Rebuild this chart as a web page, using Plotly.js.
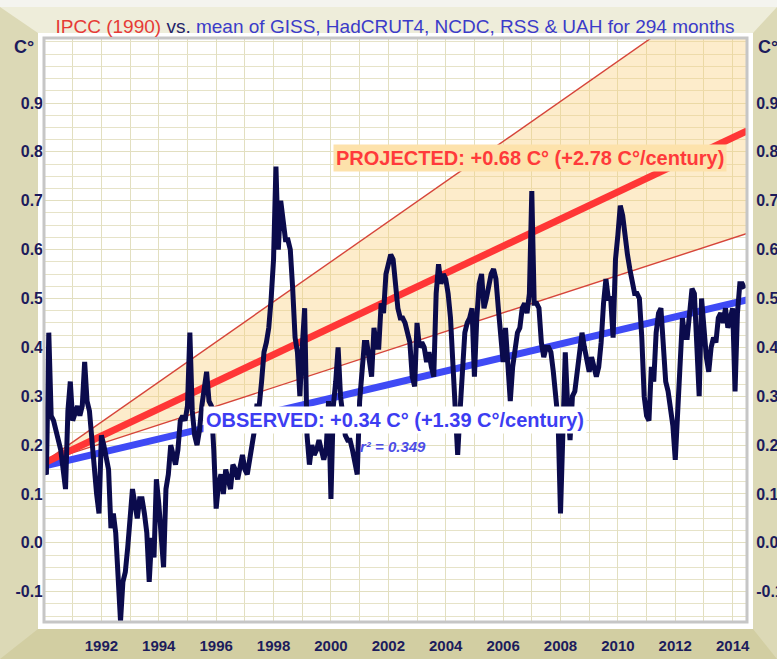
<!DOCTYPE html>
<html>
<head>
<meta charset="utf-8">
<script src="https://cdn.plot.ly/plotly-3.0.1.min.js"></script>
<style>html,body{margin:0;padding:0;background:#dcd9b6;}#chart{width:777px;height:659px;}</style>
</head>
<body>
<div id="chart"></div>
<script>
// ---- data ----
const startYear = 1990;          // first month: January 1990
const monthsCount = 294;
// monthly mean anomaly (C°), Jan 1990 .. Jun 2014
const anom1990 = [0.15,0.14,0.43,0.26,0.25,0.23,0.21,0.19,0.15,0.11,0.27,0.33];
const anom1991 = [0.25,0.27,0.28,0.26,0.28,0.37,0.29,0.27,0.21,0.13,0.10,0.06];
const anom1992 = [0.22,0.20,0.18,0.15,0.03,0.06,0.02,-0.08,-0.16,-0.08,-0.06,-0.01];
const anom1993 = [0.06,0.11,0.08,0.05,0.09,0.09,0.06,0.02,-0.08,0.01,-0.03,0.13];
const anom1994 = [0.08,0.02,-0.05,0.11,0.14,0.20,0.18,0.16,0.19,0.25,0.26,0.25];
const anom1995 = [0.28,0.43,0.27,0.22,0.20,0.23,0.28,0.31,0.35,0.29,0.28,0.19];
const anom1996 = [0.07,0.12,0.14,0.10,0.15,0.13,0.11,0.16,0.15,0.13,0.16,0.18];
const anom1997 = [0.15,0.14,0.17,0.20,0.23,0.28,0.28,0.33,0.39,0.41,0.44,0.50];
const anom1998 = [0.58,0.77,0.60,0.70,0.65,0.62,0.62,0.60,0.52,0.42,0.39,0.30];
const anom1999 = [0.40,0.48,0.22,0.16,0.20,0.18,0.19,0.21,0.19,0.17,0.19,0.29];
const anom2000 = [0.09,0.28,0.33,0.40,0.30,0.25,0.22,0.21,0.21,0.19,0.16,0.14];
const anom2001 = [0.29,0.37,0.41,0.41,0.38,0.34,0.44,0.40,0.40,0.49,0.47,0.55];
const anom2002 = [0.57,0.59,0.58,0.53,0.48,0.46,0.46,0.45,0.43,0.41,0.34,0.32];
const anom2003 = [0.45,0.40,0.41,0.40,0.37,0.39,0.36,0.34,0.51,0.57,0.53,0.55];
const anom2004 = [0.54,0.51,0.46,0.35,0.25,0.18,0.27,0.36,0.43,0.45,0.46,0.48];
const anom2005 = [0.34,0.46,0.53,0.55,0.48,0.50,0.53,0.55,0.56,0.54,0.48,0.43];
const anom2006 = [0.37,0.44,0.38,0.29,0.36,0.40,0.43,0.44,0.48,0.49,0.47,0.51];
const anom2007 = [0.72,0.49,0.49,0.48,0.41,0.38,0.40,0.40,0.39,0.35,0.31,0.25];
const anom2008 = [0.06,0.22,0.39,0.28,0.21,0.30,0.31,0.35,0.40,0.43,0.40,0.38];
const anom2009 = [0.35,0.38,0.36,0.34,0.36,0.41,0.49,0.54,0.50,0.50,0.42,0.58];
const anom2010 = [0.63,0.69,0.67,0.62,0.59,0.56,0.54,0.51,0.51,0.50,0.42,0.30];
const anom2011 = [0.26,0.25,0.36,0.33,0.43,0.47,0.48,0.42,0.33,0.31,0.28,0.24];
const anom2012 = [0.17,0.27,0.38,0.46,0.42,0.42,0.47,0.52,0.51,0.42,0.30,0.50];
const anom2013 = [0.42,0.38,0.35,0.40,0.42,0.41,0.46,0.47,0.45,0.48,0.44,0.46];
const anom2014 = [0.48,0.31,0.47,0.53,0.53,0.52];

// trend / projection lines (start and end values)
const trendYears      = [1990, 2014.5];
const projectedHigh   = [0.165, 1.17];
const projectedLow    = [0.165, 0.633];
const projectedCentre = [0.163, 0.843];
const observedTrend   = [0.157, 0.497];

// axis ticks
const xTickVals  = [1992,1994,1996,1998,2000,2002,2004,2006,2008,2010,2012,2014];
const xTickText  = ['1992','1994','1996','1998','2000','2002','2004','2006','2008','2010','2012','2014'];
const yTickVals  = [-0.1,0,0.1,0.2,0.3,0.4,0.5,0.6,0.7,0.8,0.9];
const yTickText  = ['-0.1','0.0','0.1','0.2','0.3','0.4','0.5','0.6','0.7','0.8','0.9'];

// texts
const titleParts = ['IPCC (1990)', 'vs.', 'mean of GISS, HadCRUT4, NCDC, RSS & UAH for 294 months'];
const projectedText = 'PROJECTED: +0.68 C° (+2.78 C°/century)';
const observedText  = 'OBSERVED: +0.34 C° (+1.39 C°/century)';
const r2Text = 'r² = 0.349';
const unitText = 'C°';

// ---- build ----
const anomalies = [].concat(anom1990,anom1991,anom1992,anom1993,anom1994,anom1995,anom1996,
  anom1997,anom1998,anom1999,anom2000,anom2001,anom2002,anom2003,anom2004,anom2005,anom2006,
  anom2007,anom2008,anom2009,anom2010,anom2011,anom2012,anom2013,anom2014).slice(0, monthsCount);
const monthX = anomalies.map((_, i) => startYear + i / 12);

const FONT = 'Liberation Sans, Arial, Helvetica, sans-serif';
const NAVY = '#1c1c5c';

// frame geometry in pixels -> paper coords
const W = 777, H = 659, PL = 44, PR = 747, PT = 38, PB = 622;
const px = x => ((x - PL) / (PR - PL)).toFixed(5);
const py = y => ((PB - y) / (PB - PT)).toFixed(5);
const pathOf = pts => 'M' + pts.map(p => px(p[0]) + ',' + py(p[1])).join('L') + 'Z';

const shapes = [
  {type:'path', xref:'paper', yref:'paper', layer:'below', line:{width:0},
   fillcolor:'#f4f4ef', path: pathOf([[0,0],[W,0],[W,7],[0,7]])},
  {type:'path', xref:'paper', yref:'paper', layer:'below', line:{width:0},
   fillcolor:'#eeedda', path: pathOf([[0,7],[W,7],[753,33],[38,33]])},
  {type:'path', xref:'paper', yref:'paper', layer:'below', line:{width:0},
   fillcolor:'#d2cea2', path: pathOf([[38,629],[753,629],[W,H],[0,H]])},
  {type:'path', xref:'paper', yref:'paper', layer:'below', line:{width:0},
   fillcolor:'#ffffff', path: pathOf([[38,33],[753,33],[753,629],[38,629]])},
  {type:'rect', xref:'paper', yref:'paper', layer:'above', x0:0, x1:1, y0:0, y1:1,
   line:{color:'#c6c6c6', width:3}, fillcolor:'rgba(0,0,0,0)'}
];

const traces = [
  {x: trendYears, y: projectedLow, mode:'lines', line:{color:'#d6453a', width:1.4},
   hoverinfo:'skip', showlegend:false},
  {x: trendYears, y: projectedHigh, mode:'lines', line:{color:'#d6453a', width:1.4},
   fill:'tonexty', fillcolor:'rgba(250,208,125,0.4)', hoverinfo:'skip', showlegend:false},
  {x: trendYears, y: observedTrend, mode:'lines', line:{color:'#3f4af5', width:7},
   hoverinfo:'skip', showlegend:false},
  {x: trendYears, y: projectedCentre, mode:'lines', line:{color:'#ff3636', width:7},
   hoverinfo:'skip', showlegend:false},
  {x: monthX, y: anomalies, mode:'lines', line:{color:'#0b0b4c', width:5},
   hoverinfo:'skip', showlegend:false},
  {x: [], y: [], yaxis:'y2', mode:'lines', hoverinfo:'skip', showlegend:false}
];

const yFont = {family: FONT, size: 16, color: NAVY, weight: 700};
const xFont = {family: FONT, size: 15, color: NAVY, weight: 700};
const yRange = [-0.162, 1.033];
const GRID = '#e2dfc0';

const layout = {
  width: W, height: H,
  margin: {l: PL, r: W - PR, t: PT, b: H - PB, pad: 0},
  paper_bgcolor: '#dcd9b6',
  plot_bgcolor: '#ffffff',
  showlegend: false,
  title: {
    text: '<span style="color:#e63a36">' + titleParts[0] + '</span> <span style="color:#24246a">' +
          titleParts[1] + '</span> ' + titleParts[2],
    font: {family: FONT, size: 19, color: '#3b3bc9'},
    x: 395 / W, xanchor: 'center', xref: 'container',
    y: 1 - 26 / H, yanchor: 'middle', yref: 'container'
  },
  xaxis: {
    range: [1990, 2014.5], tickmode: 'array', tickvals: xTickVals, ticktext: xTickText,
    showgrid: true, gridcolor: GRID, gridwidth: 1,
    minor: {tickmode: 'linear', tick0: 1990, dtick: 1, showgrid: true, gridcolor: GRID, gridwidth: 1},
    zeroline: false, showline: false, ticks: 'outside', ticklen: 10, tickcolor: 'rgba(0,0,0,0)',
    tickfont: xFont, fixedrange: true
  },
  yaxis: {
    range: yRange, tickmode: 'array', tickvals: yTickVals, ticktext: yTickText,
    showgrid: true, gridcolor: GRID, gridwidth: 1,
    minor: {tickmode: 'linear', tick0: 0, dtick: 0.025, showgrid: true, gridcolor: '#e6e3c8', gridwidth: 1},
    zeroline: false, showline: false, ticks: '',
    tickfont: yFont, fixedrange: true
  },
  yaxis2: {
    overlaying: 'y', side: 'right', range: yRange, tickmode: 'array', tickvals: yTickVals, ticktext: yTickText,
    showgrid: false, zeroline: false, showline: false, ticks: 'outside', ticklen: 5,
    tickcolor: 'rgba(0,0,0,0)', tickfont: yFont, fixedrange: true
  },
  shapes: shapes,
  annotations: [
    {xref:'paper', yref:'paper', x: px(24), y: py(47), text: unitText, showarrow:false,
     xanchor:'center', yanchor:'middle', font:{family:FONT, size:18, color:NAVY, weight:700}},
    {xref:'paper', yref:'paper', x: px(768), y: py(47), text: unitText, showarrow:false,
     xanchor:'center', yanchor:'middle', font:{family:FONT, size:18, color:NAVY, weight:700}},
    {xref:'x', yref:'y', x: 2006.94, y: 0.787, text: projectedText, showarrow:false,
     xanchor:'center', yanchor:'middle', bgcolor:'#fde2ab', borderpad:2,
     font:{family:FONT, size:20, color:'#ff3a3a', weight:700}},
    {xref:'x', yref:'y', x: 2002.23, y: 0.251, text: observedText, showarrow:false,
     xanchor:'center', yanchor:'middle', bgcolor:'#ffffff', borderpad:2,
     font:{family:FONT, size:20, color:'#3d3df2', weight:700}},
    {xref:'x', yref:'y', x: 2002.16, y: 0.198, text: '<i>' + r2Text + '</i>', showarrow:false,
     xanchor:'center', yanchor:'middle',
     font:{family:FONT, size:15, color:'#4d4de6', weight:700}}
  ]
};

Plotly.newPlot('chart', traces, layout, {staticPlot: true, displayModeBar: false});
</script>
</body>
</html>
